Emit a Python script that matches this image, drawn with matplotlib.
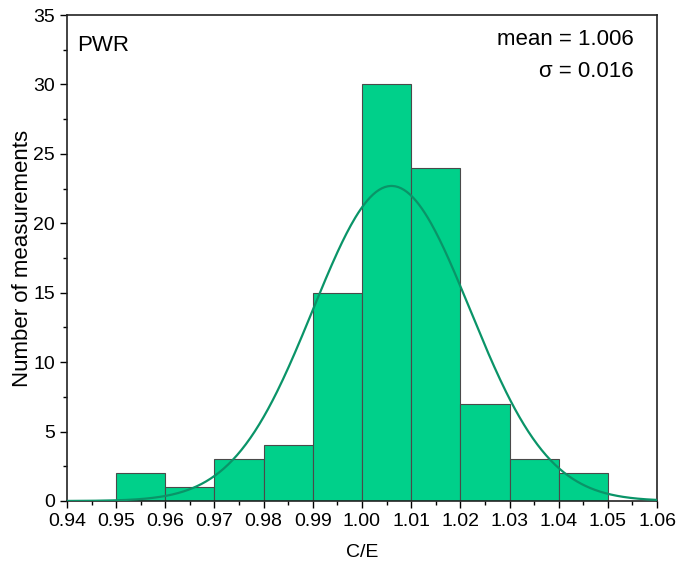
import numpy as np
import matplotlib
matplotlib.use("Agg")
import matplotlib.pyplot as plt
from matplotlib.ticker import MultipleLocator

plt.rcParams['font.family'] = ['Liberation Sans', 'DejaVu Sans']

# histogram data (C/E bins, counts)
bin_left = [0.95, 0.96, 0.97, 0.98, 0.99, 1.00, 1.01, 1.02, 1.03, 1.04]
counts = [2, 1, 3, 4, 15, 30, 24, 7, 3, 2]
bin_width = 0.01
mean = 1.006
sigma = 0.016

fig = plt.figure(figsize=(6.76, 5.71), dpi=100)
ax = fig.add_axes([0.0991, 0.1226, 0.8728, 0.8511])

ax.bar(bin_left, counts, width=bin_width, align="edge",
       color="#00d08a", edgecolor="#4a4a4a", linewidth=0.8, zorder=2)

# normal fit curve from the given mean / sigma
x = np.linspace(0.94, 1.06, 400)
n_total = sum(counts)
y = n_total * bin_width / (sigma * np.sqrt(2 * np.pi)) * np.exp(-0.5 * ((x - mean) / sigma) ** 2)
ax.plot(x, y, color="#0a9468", linewidth=1.6, zorder=3)

ax.set_xlim(0.94, 1.06)
ax.set_ylim(0, 35)
xt = np.arange(0.94, 1.0601, 0.01)
ax.set_xticks(xt)
ax.set_xticklabels([f"{v:.2f}" for v in xt])
ax.xaxis.set_minor_locator(MultipleLocator(0.005))
ax.yaxis.set_major_locator(MultipleLocator(5))
ax.yaxis.set_minor_locator(MultipleLocator(2.5))
ax.tick_params(which="both", direction="out", top=False, right=False, labelsize=14)
ax.tick_params(which="major", length=5, width=1)
ax.tick_params(which="minor", length=3, width=1)
for s in ax.spines.values():
    s.set_linewidth(1.2)
    s.set_color("#222222")

ax.set_xlabel("C/E", fontsize=14, labelpad=10)
ax.set_ylabel("Number of measurements", fontsize=16, labelpad=0)

ax.text(0.018, 0.958, "PWR", transform=ax.transAxes, fontsize=16, va="top", ha="left")
ax.text(0.96, 0.972, "mean = 1.006", transform=ax.transAxes, fontsize=16, va="top", ha="right")
ax.text(0.96, 0.906, "σ = 0.016", transform=ax.transAxes, fontsize=16, va="top", ha="right")

fig.savefig("out.png", dpi=100)
